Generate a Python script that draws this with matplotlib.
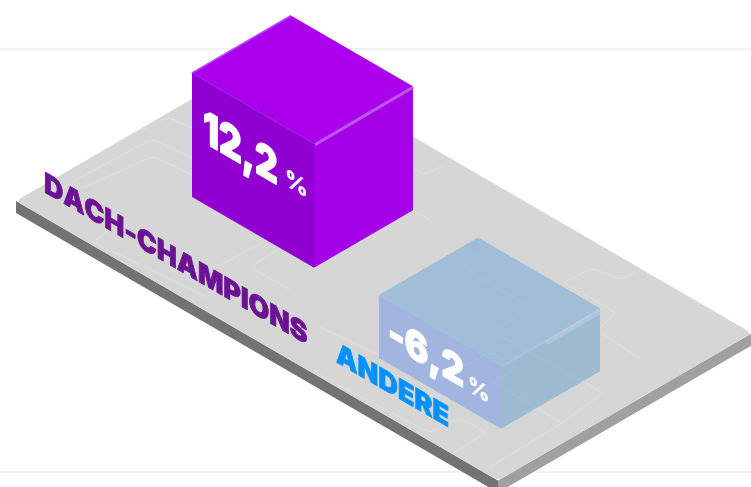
import numpy as np
from matplotlib import pyplot as plt
from matplotlib.patches import PathPatch, Polygon
from matplotlib.path import Path
from matplotlib.patheffects import AbstractPathEffect
from matplotlib.transforms import Affine2D

categories = ["DACH-CHAMPIONS", "ANDERE"]
values = [12.2, -6.2]
unit = "%"

WIDTH, HEIGHT = 751, 487
SLOPE = 0.58
SCALE = 10.16

# isometric layout, all lengths in pixels along the plate
ORIGIN = np.array([16.0, 201.0])
PLATE_U, PLATE_V = 482, 254
THICK = 12
BAR_U, BAR_V = 122, 99
bar_feet = [(84.5, 91.5), (316.8, 46.2)]

bar_faces = [
  dict(top = "#aa00ee", left = "#9000d0", right = "#a600e8", alpha = 1),
  dict(top = (110/255, 168/255, 220/255), left = (112/255, 150/255, 234/255),
       right = (106/255, 160/255, 210/255), alpha = 0.5),
]
label_colors = ["#6a1293", "#0091ff"]
label_anchor = [(44, 192), (336, 362)]
label_size = [20.5, 20.5]
label_squeeze = [0.935, 0.95]
value_offset = [(11, 69), (9, 49)]
value_size = [33, 29]
value_squeeze = [0.77, 0.87]
unit_offset = [(93, 112), (89, 96)]
unit_size = [17, 16]

# faint circuit lines on the plate
traces = [
  [(72, 182), (152, 139), (192, 158)],
  [(83, 188), (153, 156), (192, 175)],
  [(140, 132), (167, 117), (192, 128)],
  [(113, 227), (93, 242), (207, 297)],
  [(217, 267), (263, 242)],
  [(277, 250), (250, 267), (290, 290)],
  [(413, 167), (423, 175), (445, 165)],
  [(413, 210), (430, 220)],
  [(477, 238), (484, 248), (462, 267), (530, 307), (493, 332), (603, 393)],
  [(603, 393), (562, 423), (490, 467)],
  [(493, 382), (517, 368), (490, 352), (435, 382), (320, 327)],
  [(493, 382), (562, 423)],
  [(320, 375), (430, 433), (460, 418), (487, 432), (453, 453)],
  [(563, 283), (592, 268), (622, 280), (640, 270)],
  [(563, 283), (617, 313), (597, 330), (637, 357)],
]


class Shear(AbstractPathEffect):
  '''Lays text on a side face: verticals stay, the baseline slopes down.'''

  def __init__(self, x0, slope = SLOPE, bold = 0, squeeze = 1):
    super().__init__()
    self.x0, self.slope, self.bold, self.squeeze = x0, slope, bold, squeeze

  def draw_path(self, renderer, gc, tpath, affine, rgbFace = None):
    squeeze = Affine2D().translate(-self.x0, 0).scale(self.squeeze, 1).translate(self.x0, 0)
    shear = Affine2D.from_values(1, -self.slope, 0, 1, 0, self.slope * self.x0)
    gc0 = renderer.new_gc()
    gc0.copy_properties(gc)
    if self.bold:
      gc0.set_linewidth(self.bold)
      gc0.set_foreground(rgbFace)
    renderer.draw_path(gc0, tpath, affine + squeeze + shear, rgbFace)
    gc0.restore()


def iso(u, v, h = 0):
  return ORIGIN + np.array([u + v, SLOPE * (u - v) - h])


def rounded(points, radius = 7, closed = False):
  pts = [np.array(p, float) for p in points]
  verts, codes = [], []
  n = len(pts)
  for i, p in enumerate(pts):
    if not closed and i in (0, n - 1):
      verts.append(p)
      codes.append(Path.MOVETO if i == 0 else Path.LINETO)
      continue
    a, b = pts[i - 1], pts[(i + 1) % n]
    r = min(radius, np.linalg.norm(a - p) / 2, np.linalg.norm(b - p) / 2)
    start = p + (a - p) / np.linalg.norm(a - p) * r
    end = p + (b - p) / np.linalg.norm(b - p) * r
    verts += [start, p, end]
    codes += [Path.MOVETO if (closed and i == 0) else Path.LINETO, Path.CURVE3, Path.CURVE3]
  if closed:
    verts.append(verts[0])
    codes.append(Path.CLOSEPOLY)
  return Path(verts, codes)


fig = plt.figure(figsize = (WIDTH / 100, HEIGHT / 100), dpi = 100)
ax = fig.add_axes([0, 0, 1, 1])
ax.set_xlim(0, WIDTH)
ax.set_ylim(HEIGHT, 0)
ax.axis("off")

for y in (49, 472):
  ax.plot([0, WIDTH], [y, y], color = "#f2f2f2", lw = 1.6, zorder = 1)

# plate sides and top
left, front, right, back = iso(0, 0), iso(PLATE_U, 0), iso(PLATE_U, PLATE_V), iso(0, PLATE_V)
down = np.array([0, THICK])
ax.add_patch(Polygon([left, front, front + down, left + down], color = "#737373", lw = 0, zorder = 2))
ax.add_patch(Polygon([front, right, right + down, front + down], color = "#a0a0a0", lw = 0, zorder = 2))
ax.add_patch(PathPatch(rounded([left, front, right, back], radius = 6, closed = True),
  facecolor = "#d6d6d6", lw = 0, zorder = 3))

for trace in traces:
  ax.add_patch(PathPatch(rounded(trace), fill = False, edgecolor = "#dfdfdf", lw = 0.6, zorder = 4))

for i, value in enumerate(values):
  u, v = bar_feet[i]
  h = abs(value) * SCALE
  faces = bar_faces[i]
  a = faces["alpha"]
  ax.add_patch(Polygon([iso(u, v), iso(u + BAR_U, v), iso(u + BAR_U, v, h), iso(u, v, h)],
    facecolor = faces["left"], alpha = a, lw = 0, zorder = 5))
  ax.add_patch(Polygon([iso(u + BAR_U, v), iso(u + BAR_U, v + BAR_V), iso(u + BAR_U, v + BAR_V, h), iso(u + BAR_U, v, h)],
    facecolor = faces["right"], alpha = a, lw = 0, zorder = 5))
  ax.add_patch(Polygon([iso(u, v, h), iso(u + BAR_U, v, h), iso(u + BAR_U, v + BAR_V, h), iso(u, v + BAR_V, h)],
    facecolor = faces["top"], alpha = a, lw = 0, zorder = 5))

  if value > 0:
    edge = np.array([iso(u + BAR_U, v, h) + (1, 1), iso(u + BAR_U, v + BAR_V, h) + (0, 1)])
    ax.plot(edge[:, 0], edge[:, 1], color = "#bb55ee", lw = 2.2, solid_capstyle = "butt", zorder = 6)
    edge = np.array([iso(u, v, h), iso(u, v + BAR_V, h)])
    ax.plot(edge[:, 0], edge[:, 1], color = "#b84cf0", lw = 1.2, solid_capstyle = "butt", zorder = 6)
    edge = np.array([iso(u, v, h), iso(u + BAR_U, v, h)])
    ax.plot(edge[:, 0], edge[:, 1], color = "#a61fe0", lw = 0.6, zorder = 6)
  else:
    edge = np.array([iso(u + BAR_U, v, h) + (1, 1), iso(u + BAR_U, v + BAR_V, h) + (0, 1)])
    ax.plot(edge[:, 0], edge[:, 1], color = "white", alpha = 0.12, lw = 1.2, solid_capstyle = "butt", zorder = 6)
    mid = iso(u + BAR_U, v + BAR_V * 0.45, h) + (1, 3)
    edge = np.array([mid, iso(u + BAR_U, v + BAR_V, h) + (0, 3)])
    ax.plot(edge[:, 0], edge[:, 1], color = "white", alpha = 0.18, lw = 3.5, solid_capstyle = "butt", zorder = 6)

  corner = iso(u, v, h)
  x, y = corner + value_offset[i]
  ax.text(x, y, f"{value:.1f}".replace(".", ","), color = "white", family = "Inter", weight = "black",
    fontsize = value_size[i], va = "baseline", ha = "left", zorder = 7,
    path_effects = [Shear(x, bold = 0.8, squeeze = value_squeeze[i])])
  x, y = corner + unit_offset[i]
  ax.text(x, y, unit, color = "white", family = "Inter", weight = "bold",
    fontsize = unit_size[i], va = "baseline", ha = "left", zorder = 7,
    path_effects = [Shear(x, bold = 0.4, squeeze = 0.95)])

  x, y = label_anchor[i]
  ax.text(x, y, categories[i], color = label_colors[i], family = "Inter", weight = "black",
    fontsize = label_size[i], va = "baseline", ha = "left", zorder = 8,
    path_effects = [Shear(x, bold = 0.5, squeeze = label_squeeze[i])])

fig.savefig("out.png", dpi = 100, facecolor = "white")
